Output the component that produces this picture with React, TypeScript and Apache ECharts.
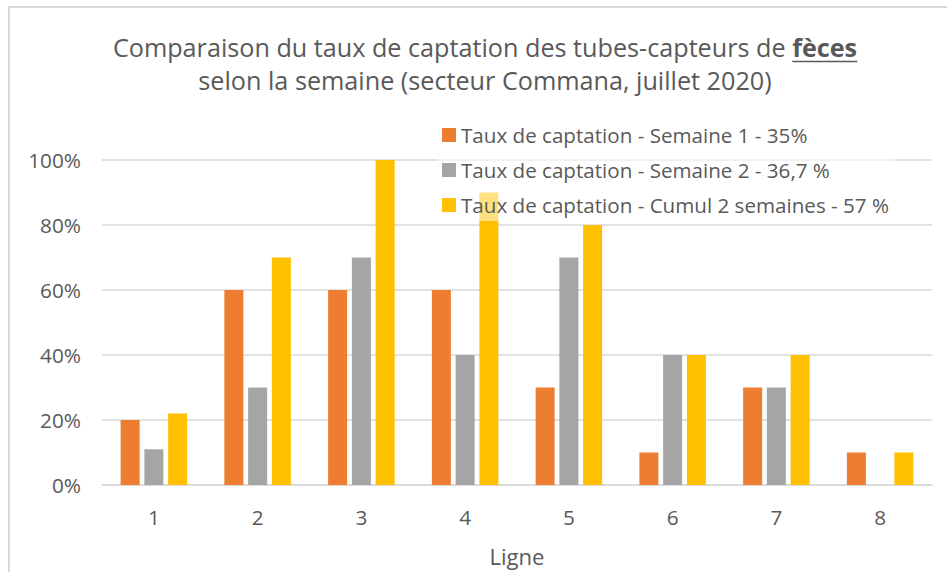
import { useEffect, useRef } from "react";
import * as echarts from "echarts";

const categories = ["1", "2", "3", "4", "5", "6", "7", "8"];
const semaine1 = [20, 60, 60, 60, 30, 10, 30, 10];
const semaine2 = [11, 30, 70, 40, 70, 40, 30, 0];
const cumul = [22, 70, 100, 90, 80, 40, 40, 10];
const seriesNames = [
  "Taux de captation - Semaine 1 - 35%",
  "Taux de captation - Semaine 2 - 36,7 %",
  "Taux de captation - Cumul 2 semaines - 57 %",
];
const seriesColors = ["#ED7D31", "#A5A5A5", "#FFC000"];
const titleStart = "Comparaison du taux de captation des tubes-capteurs de ";
const titleBold = "fèces";
const titleLine2 = "selon la semaine (secteur Commana, juillet 2020)";
const xAxisName = "Ligne";

const FONT = "Open Sans";
const TEXT = "#595959";

function measure(text: string, font: string): number {
  const c = document.createElement("canvas");
  const ctx = c.getContext("2d");
  if (!ctx) return text.length * 10;
  ctx.font = font;
  return ctx.measureText(text).width;
}

// font size that gives a text the width it has in the reference
function fitSize(text: string, targetWidth: number, weight = "normal"): number {
  const w = measure(text, `${weight} 100px "${FONT}"`);
  return Math.round((targetWidth / w) * 1000) / 10;
}

export default function App() {
  const ref = useRef<HTMLDivElement>(null);
  useEffect(() => {
    if (!ref.current) return;
    const chart = echarts.init(ref.current, null, { renderer: "svg" });

    const wN100 = measure(titleStart, `normal 100px "${FONT}"`);
    const wB100 = measure(titleBold, `bold 100px "${FONT}"`);
    const titleSize = Math.round((744 / (wN100 + wB100)) * 1000) / 10;
    const wB = (wB100 * titleSize) / 100;
    const total = ((wN100 + wB100) * titleSize) / 100;
    const cx = 485;
    const ulEnd = cx + total / 2;
    const ulStart = ulEnd - wB;

    const legendSize = fitSize(seriesNames[0], 347);
    const axisSize = fitSize("100%", 53);
    const nameSize = fitSize(xAxisName, 55);

    const data = [semaine1, semaine2, cumul];
    chart.setOption({
      animation: false,
      textStyle: { fontFamily: FONT, color: TEXT },
      grid: { left: 102, right: 15, top: 160, bottom: 86, containLabel: false },
      graphic: [
        {
          type: "rect",
          z: -10,
          shape: { x: 9, y: 7, width: 1000, height: 700 },
          style: { fill: "none", stroke: "#d9d9d9", lineWidth: 2 },
        },
        {
          type: "text",
          x: cx,
          y: 47,
          style: {
            text: `{n|${titleStart}}{b|${titleBold}}`,
            align: "center",
            verticalAlign: "middle",
            rich: {
              n: { fontFamily: FONT, fontSize: titleSize, fill: TEXT, fontWeight: "normal" },
              b: { fontFamily: FONT, fontSize: titleSize, fill: TEXT, fontWeight: "bold" },
            },
          },
        },
        {
          type: "line",
          shape: { x1: ulStart, y1: 61.5, x2: ulEnd, y2: 61.5 },
          style: { stroke: TEXT, lineWidth: 1.5 },
        },
        {
          type: "text",
          x: cx,
          y: 80,
          style: {
            text: titleLine2,
            align: "center",
            verticalAlign: "middle",
            fontFamily: FONT,
            fontSize: titleSize,
            fill: TEXT,
          },
        },
      ],
      legend: {
        orient: "vertical",
        left: 437,
        top: 119,
        itemWidth: 14,
        itemHeight: 14,
        itemGap: 13,
        icon: "rect",
        backgroundColor: "rgba(255,255,255,0.5)",
        z: 10,
        textStyle: { fontFamily: FONT, fontSize: legendSize, color: TEXT, lineHeight: 22 },
        data: seriesNames,
      },
      xAxis: {
        type: "category",
        data: categories,
        axisLine: { lineStyle: { color: "#d9d9d9", width: 1.5 } },
        axisTick: { show: false },
        axisLabel: { fontFamily: FONT, fontSize: axisSize, color: TEXT, margin: 21 },
        name: xAxisName,
        nameLocation: "middle",
        nameGap: 60,
        nameTextStyle: { fontFamily: FONT, fontSize: nameSize, color: TEXT },
      },
      yAxis: {
        type: "value",
        min: 0,
        max: 100,
        interval: 20,
        axisLine: { show: false },
        axisTick: { show: false },
        splitLine: { lineStyle: { color: "#d9d9d9", width: 1.5 } },
        axisLabel: {
          fontFamily: FONT,
          fontSize: axisSize,
          color: TEXT,
          margin: 21,
          formatter: "{value}%",
        },
      },
      series: seriesNames.map((name, i) => ({
        name,
        type: "bar",
        data: data[i],
        barWidth: 19,
        barGap: "25%",
        itemStyle: { color: seriesColors[i] },
      })),
    });
    return () => chart.dispose();
  }, []);
  return (
    <div
      ref={ref}
      style={{ position: "fixed", left: 0, top: 0, width: 947, height: 572, background: "#fff" }}
    />
  );
}
